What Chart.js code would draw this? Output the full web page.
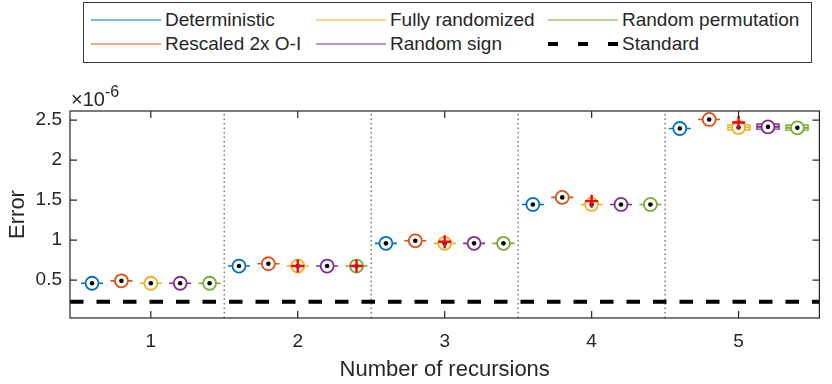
<!DOCTYPE html>
<html>
<head>
<meta charset="utf-8">
<script src="https://cdn.jsdelivr.net/npm/chart.js@4.4.1/dist/chart.umd.min.js"></script>
<style>
  html, body { margin: 0; padding: 0; background: #fff; }
  #wrap { position: relative; width: 832px; height: 384px; font-family: "Liberation Sans", Arial, sans-serif; color: #262626; }
  #chart { position: absolute; left: 0; top: 0; }
  #legend { position: absolute; left: 83px; top: 2px; width: 727px; height: 59px; border: 1px solid #3a3a3a; background: #fff; }
  .item { position: absolute; height: 24px; display: flex; align-items: center; font-size: 19px; white-space: nowrap; }
  .sample { width: 70px; margin-right: 4px; }
</style>
</head>
<body>
<div id="wrap">
  <canvas id="chart" width="832" height="384"></canvas>
  <div id="legend"></div>
</div>
<script>
// groups on the x axis (number of recursions)
const groups = [1, 2, 3, 4, 5];
const yTicks = [0.5, 1, 1.5, 2, 2.5];

// median errors, in units of 1e-6
const deterministic     = [0.46, 0.675, 0.959, 1.446, 2.396];
const rescaled          = [0.49, 0.704, 0.991, 1.534, 2.509];
const fullyRandomized   = [0.46, 0.675, 0.959, 1.446, 2.409];
const randomSign        = [0.46, 0.675, 0.959, 1.446, 2.416];
const randomPermutation = [0.46, 0.675, 0.959, 1.446, 2.404];
const standardError = 0.228;

// outliers (red +)
const fullyOutliers = [null, 0.675, 0.979, 1.487, 2.471];
const permOutliers  = [null, 0.675, null, null, null];

// series (index) whose box is wide enough to show at recursion 5
const visibleBoxes = [2, 3, 4];

const seriesNames = ['Deterministic', 'Rescaled 2x O-I', 'Fully randomized', 'Random sign', 'Random permutation'];
const seriesData = [deterministic, rescaled, fullyRandomized, randomSign, randomPermutation];
const seriesColors = ['#0072BD', '#D95319', '#EDB120', '#7E2F8E', '#77AC30'];
const seriesOffsets = [-0.4, -0.2, 0, 0.2, 0.4];

const xMin = 0.45, xMax = 5.55, yMin = 0.025, yMax = 2.615;
const textColor = '#262626';
const fontFamily = '"Liberation Sans", Arial, sans-serif';

function boxImage(color) {
  const c = document.createElement('canvas');
  c.width = 24; c.height = 7;
  const g = c.getContext('2d');
  g.strokeStyle = color;
  g.lineWidth = 1.5;
  g.strokeRect(1, 1, 22, 5);
  return c;
}

const datasets = [];

// dotted group separators
groups.slice(1).forEach(g => {
  datasets.push({
    type: 'line', data: [{x: g - 0.5, y: yMin}, {x: g - 0.5, y: yMax}],
    borderColor: '#7a7a7a', borderWidth: 1.5, borderDash: [1.5, 3],
    pointRadius: 0, order: 10
  });
});

// standard reference
datasets.push({
  type: 'line', data: [{x: xMin, y: standardError}, {x: xMax, y: standardError}],
  borderColor: '#000', borderWidth: 4, borderDash: [13.5, 13],
  pointRadius: 0, order: 9
});

seriesData.forEach((vals, i) => {
  const pts = vals.map((v, k) => ({x: groups[k] + seriesOffsets[i], y: v}));
  datasets.push({
    data: pts, pointStyle: 'line', pointRadius: 11, borderColor: seriesColors[i],
    borderWidth: 1.6, order: 8
  });
  if (visibleBoxes.includes(i)) {
    const k = groups.length - 1;
    datasets.push({
      data: [pts[k]], pointStyle: boxImage(seriesColors[i]), order: 8
    });
  }
  datasets.push({
    data: pts, pointStyle: 'circle', pointRadius: 6.5, borderColor: seriesColors[i],
    backgroundColor: '#fff', borderWidth: 1.8, order: 7
  });
  datasets.push({
    data: pts, pointStyle: 'circle', pointRadius: 2.3, borderWidth: 0,
    backgroundColor: '#000', order: 6
  });
});

const outlierPts = [];
fullyOutliers.forEach((v, k) => { if (v !== null) outlierPts.push({x: groups[k] + seriesOffsets[2], y: v}); });
permOutliers.forEach((v, k) => { if (v !== null) outlierPts.push({x: groups[k] + seriesOffsets[4], y: v}); });
datasets.push({
  data: outlierPts, pointStyle: 'cross', pointRadius: 6.5, borderColor: '#ff0000',
  borderWidth: 2.4, order: 5
});

// axes box, inward ticks and the exponent label
const axesBox = {
  id: 'axesBox',
  afterDraw(chart) {
    const {ctx, chartArea: a, scales: {x, y}} = chart;
    const tl = 7;
    ctx.save();
    ctx.strokeStyle = textColor;
    ctx.lineWidth = 1.2;
    ctx.strokeRect(a.left, a.top, a.right - a.left, a.bottom - a.top);
    ctx.beginPath();
    groups.forEach(v => {
      const px = x.getPixelForValue(v);
      ctx.moveTo(px, a.bottom); ctx.lineTo(px, a.bottom - tl);
      ctx.moveTo(px, a.top); ctx.lineTo(px, a.top + tl);
    });
    yTicks.forEach(v => {
      const py = y.getPixelForValue(v);
      ctx.moveTo(a.left, py); ctx.lineTo(a.left + tl, py);
      ctx.moveTo(a.right, py); ctx.lineTo(a.right - tl, py);
    });
    ctx.stroke();
    ctx.fillStyle = textColor;
    ctx.textBaseline = 'alphabetic';
    ctx.font = '20px ' + fontFamily;
    ctx.fillText('\u00d710', a.left + 1, a.top - 5);
    const w = ctx.measureText('\u00d710').width;
    ctx.font = '16px ' + fontFamily;
    ctx.fillText('-6', a.left + 1 + w, a.top - 14);
    ctx.restore();
  }
};

new Chart(document.getElementById('chart'), {
  type: 'scatter',
  data: { datasets },
  options: {
    responsive: false,
    animation: false,
    devicePixelRatio: 1,
    events: [],
    layout: { padding: { top: 111, right: 7, left: 0, bottom: 0 } },
    plugins: { legend: { display: false }, tooltip: { enabled: false } },
    scales: {
      x: {
        type: 'linear', min: xMin, max: xMax,
        afterBuildTicks: s => { s.ticks = groups.map(v => ({value: v})); },
        afterFit: s => { s.height = 66; },
        grid: { display: false, drawTicks: false },
        border: { display: false },
        ticks: { color: textColor, padding: 12, font: { family: fontFamily, size: 19 }, callback: v => String(v) },
        title: { display: true, text: 'Number of recursions', color: textColor,
                 font: { family: fontFamily, size: 22 }, padding: { top: 0, bottom: 1 } }
      },
      y: {
        type: 'linear', min: yMin, max: yMax,
        afterBuildTicks: s => { s.ticks = yTicks.map(v => ({value: v})); },
        afterFit: s => { s.width = 70; },
        grid: { display: false, drawTicks: false },
        border: { display: false },
        ticks: { color: textColor, padding: 8, font: { family: fontFamily, size: 19 }, callback: v => String(v) },
        title: { display: true, text: 'Error', color: textColor,
                 font: { family: fontFamily, size: 22 }, padding: { top: 5, bottom: 0 } }
      }
    }
  },
  plugins: [axesBox]
});

// legend, column-major like the original
const legendEntries = [
  { name: seriesNames[0], color: seriesColors[0] },
  { name: seriesNames[1], color: seriesColors[1] },
  { name: seriesNames[2], color: seriesColors[2] },
  { name: seriesNames[3], color: seriesColors[3] },
  { name: seriesNames[4], color: seriesColors[4] },
  { name: 'Standard', color: '#000', dashed: true }
];
const colLeft = [7, 232, 464];
const rowMid = [17, 40.5];
const legend = document.getElementById('legend');
legendEntries.forEach((e, i) => {
  const col = Math.floor(i / 2), row = i % 2;
  const item = document.createElement('div');
  item.className = 'item';
  item.style.left = colLeft[col] + 'px';
  item.style.top = (rowMid[row] - 12) + 'px';
  const sample = e.dashed
    ? '<svg class="sample" width="70" height="6"><line x1="0" y1="3" x2="70" y2="3" stroke="#000" stroke-width="4" stroke-dasharray="10 20"/></svg>'
    : '<svg class="sample" width="70" height="6"><line x1="0" y1="3" x2="70" y2="3" stroke="' + e.color + '" stroke-width="1.2"/></svg>';
  item.innerHTML = sample + '<span>' + e.name + '</span>';
  legend.appendChild(item);
});
</script>
</body>
</html>
